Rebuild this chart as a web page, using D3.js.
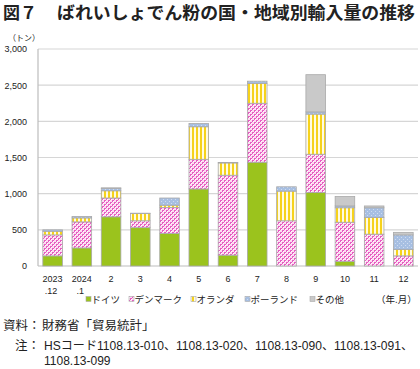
<!DOCTYPE html>
<html><head><meta charset="utf-8">
<script src="https://cdn.jsdelivr.net/npm/d3@7"></script>
<style>
html,body{margin:0;padding:0;background:#fff;}
svg{display:block;font-family:"Liberation Sans","Noto Sans CJK JP",sans-serif;}
</style></head>
<body>
<script>
const categories = ["2023|.12","2024|.1","2","3","4","5","6","7","8","9","10","11","12"];
const seriesNames = ["ドイツ","デンマーク","オランダ","ポーランド","その他"];
const germany     = [140, 250, 680, 530, 450, 1065, 150, 1435,   0, 1015,  65,   0,   0];
const denmark     = [290, 360, 260,  95, 360,  410, 1105, 815, 625,  530, 540, 440, 140];
const netherlands = [ 50,  55, 100, 100,  30,  450, 170,  275, 410,  555, 200, 230,  90];
const poland      = [ 20,  20,  35,   5, 100,   45,   5,   30,  60,   30,  25, 135, 200];
const other       = [  0,   0,   5,   0,   0,    0,   0,    0,   0,  515, 130,  25,  35];
const yTicks = [0, 500, 1000, 1500, 2000, 2500, 3000];

const W = 420, H = 369;
const svg = d3.select("body").append("svg").attr("width", W).attr("height", H);
const defs = svg.append("defs");

// patterns
const pDen = defs.append("pattern").attr("id","pDen").attr("patternUnits","userSpaceOnUse").attr("width",4).attr("height",4);
pDen.append("rect").attr("width",4).attr("height",4).attr("fill","#fcdcf1");
pDen.append("rect").attr("x",0).attr("y",0).attr("width",2).attr("height",2).attr("fill","#e65cc1");
pDen.append("rect").attr("x",2).attr("y",2).attr("width",2).attr("height",2).attr("fill","#e65cc1");
pDen.append("rect").attr("x",1).attr("y",1).attr("width",1).attr("height",1).attr("fill","#fff");
pDen.append("rect").attr("x",3).attr("y",3).attr("width",1).attr("height",1).attr("fill","#fff");

const pNet = defs.append("pattern").attr("id","pNet").attr("patternUnits","userSpaceOnUse").attr("width",4).attr("height",4);
pNet.append("rect").attr("width",4).attr("height",4).attr("fill","#fffbe3");
pNet.append("rect").attr("x",0).attr("width",2).attr("height",4).attr("fill","#f6d21c");

const pPol = defs.append("pattern").attr("id","pPol").attr("patternUnits","userSpaceOnUse").attr("width",4).attr("height",4);
pPol.append("rect").attr("width",4).attr("height",4).attr("fill","#a7bfe2");
pPol.append("rect").attr("x",1).attr("y",1).attr("width",1).attr("height",1).attr("fill","#cfdcf1");
pPol.append("rect").attr("x",3).attr("y",3).attr("width",1).attr("height",1).attr("fill","#cfdcf1");

const fills = ["#9bc31d","url(#pDen)","url(#pNet)","url(#pPol)","#c9c9c9"];

// title
svg.append("text").attr("x",3).attr("y",19).attr("font-family","'Noto Sans CJK JP',sans-serif")
  .attr("font-weight","bold").attr("font-size",17).attr("fill","#222").text("図７");
svg.append("text").attr("x",57).attr("y",19).attr("font-family","'Noto Sans CJK JP',sans-serif")
  .attr("font-weight","bold").attr("font-size",17).attr("fill","#222")
  .attr("textLength",358).attr("lengthAdjust","spacingAndGlyphs")
  .text("ばれいしょでん粉の国・地域別輸入量の推移");

// scales
const x = d3.scaleBand().domain(categories).range([38, 418]).paddingInner(0.33).paddingOuter(0.165);
const y = d3.scaleLinear().domain([0, 3000]).range([266, 49]);

// gridlines
svg.append("g").selectAll("line").data(yTicks).join("line")
  .attr("x1",38).attr("x2",418).attr("y1",d=>y(d)).attr("y2",d=>y(d))
  .attr("stroke",d=>d===0?"#bdbdbd":"#d6d6d6").attr("stroke-width",1.2);
svg.append("line").attr("x1",38).attr("x2",38).attr("y1",y(3000)).attr("y2",y(0))
  .attr("stroke","#bdbdbd").attr("stroke-width",1.2);

// y axis labels
const yAxis = d3.axisLeft(y).tickValues(yTicks).tickSize(0).tickPadding(0).tickFormat(d3.format(","));
const gy = svg.append("g").attr("transform","translate(27,0)").call(yAxis);
gy.select(".domain").remove();
gy.selectAll("text").attr("font-size",9).attr("fill","#222").attr("font-family","'Liberation Sans',Arial,sans-serif");

svg.append("text").attr("x",8).attr("y",41).attr("font-size",8).attr("fill","#222")
  .attr("font-family","'Noto Sans CJK JP',sans-serif").text("（トン）");

// stacked data
const rows = categories.map((c,i)=>({cat:c, s0:germany[i], s1:denmark[i], s2:netherlands[i], s3:poland[i], s4:other[i]}));
const stack = d3.stack().keys(["s0","s1","s2","s3","s4"])(rows);

svg.append("g").selectAll("g").data(stack).join("g")
  .attr("fill",(d,i)=>fills[i])
  .selectAll("rect").data(d=>d.filter(p=>p[1]-p[0]>0)).join("rect")
  .attr("x",d=>x(d.data.cat)).attr("width",x.bandwidth())
  .attr("y",d=>y(d[1])).attr("height",d=>y(d[0])-y(d[1]))
  .attr("stroke","#a9a9a9").attr("stroke-width",0.8);

// x labels
const xg = svg.append("g");
categories.forEach(c=>{
  const parts = c.split("|");
  const cx = x(c) + x.bandwidth()/2;
  xg.append("text").attr("x",cx).attr("y",282).attr("text-anchor","middle")
    .attr("font-size",9).attr("fill","#222").text(parts[0]);
  if(parts[1]) xg.append("text").attr("x",cx-1.5).attr("y",294).attr("text-anchor","middle")
    .attr("font-size",9).attr("fill","#222").text(parts[1]);
});

// legend
const legX = [86, 129, 191, 245, 310];
const lg = svg.append("g");
seriesNames.forEach((n,i)=>{
  lg.append("rect").attr("x",legX[i]).attr("y",296.5).attr("width",5).attr("height",5)
    .attr("fill",fills[i]).attr("stroke","#a9a9a9").attr("stroke-width",0.6);
  lg.append("text").attr("x",legX[i]+5.5).attr("y",303).attr("font-size",9.5).attr("fill","#222")
    .attr("font-family","'Noto Sans CJK JP',sans-serif").text(n);
});
svg.append("text").attr("x",376).attr("y",303).attr("font-size",9.5).attr("fill","#222")
  .attr("font-family","'Noto Sans CJK JP',sans-serif").text("（年.月）");

// notes
svg.append("text").attr("x",3).attr("y",330).attr("font-size",12.5).attr("fill","#222").text("資料：");
svg.append("text").attr("x",42).attr("y",330).attr("font-size",12.5).attr("fill","#222").text("財務省「貿易統計」");
svg.append("text").attr("x",15).attr("y",350).attr("font-size",12.5).attr("fill","#222").text("注：");
svg.append("text").attr("x",44).attr("y",350).attr("font-size",12).attr("fill","#222")
  .attr("textLength",369).attr("lengthAdjust","spacingAndGlyphs")
  .text("HSコード1108.13-010、1108.13-020、1108.13-090、1108.13-091、");
svg.append("text").attr("x",44).attr("y",365).attr("font-size",12).attr("fill","#222")
  .text("1108.13-099");
</script>
</body></html>
